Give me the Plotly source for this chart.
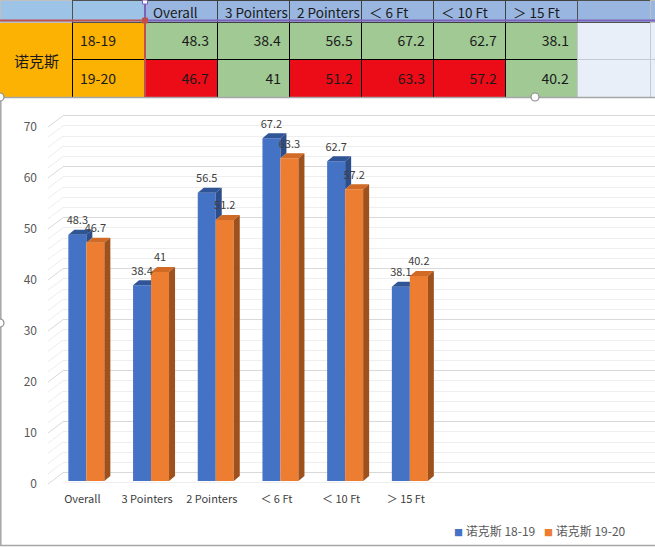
import plotly.graph_objects as go
import numpy as np

# ---------------- data ----------------
categories = ["Overall", "3 Pointers", "2 Pointers", "＜ 6 Ft", "＜ 10 Ft", "＞ 15 Ft"]
player = "诺克斯"
seasons = ["18-19", "19-20"]
values_1819 = [48.3, 38.4, 56.5, 67.2, 62.7, 38.1]
values_1920 = [46.7, 41, 51.2, 63.3, 57.2, 40.2]
y_ticks = [0, 10, 20, 30, 40, 50, 60, 70]

# ---------------- styling ----------------
W, H = 655, 547
FONT = "Noto Sans CJK SC, Noto Sans, sans-serif"
BLUE, BLUE_TOP, BLUE_SIDE = "#4472C4", "#2F5597", "#2D4E8B"
ORANGE, ORANGE_TOP, ORANGE_SIDE = "#ED7D31", "#D06A24", "#9E511C"
GOLD = "#FBB203"
GREEN = "#A0C994"
RED = "#EC0C17"
PALE = "#E9EFF8"
HDR_A = "#9DC3E6"
HDR_B = "#98B6DF"


def px_x(p):
    return p / W


def px_y(p):
    return 1 - p / H


def nb(s):
    return s.replace(" ", "\u00a0")


def fmt(v):
    return f"{v:g}"


def cell(s):
    # span wrapper -> plotly renders it vertically centred like Excel
    return f"<span>{s}</span>" if s else ""


fig = go.Figure()

# ---------------- table ----------------
hdr_vals = ["", ""] + [nb(c) for c in categories] + ["", ""]
cell_vals = ([["", ""], [cell(s) for s in seasons]]
             + [[cell(fmt(a)), cell(fmt(b))] for a, b in zip(values_1819, values_1920)]
             + [["", ""], ["", ""]])
cell_fill = [[GOLD, GOLD], [GOLD, GOLD]] + [[GREEN, RED if b < a else GREEN] for a, b in zip(values_1819, values_1920)] + [[PALE, PALE], [PALE, PALE]]
cell_line = [[GOLD, GOLD], ["#000000", "#000000"]] + [["#000000", "#000000"] for _ in categories] + [["#C4CAD4", "#C4CAD4"], ["#C4CAD4", "#C4CAD4"]]
hdr_fill = [HDR_A, HDR_A] + [HDR_B] * len(categories) + [HDR_B, HDR_B]
hdr_line = ["#BFBFBF", "#505050"] + ["#404040"] * len(categories) + ["#505050", "#BFBFBF"]
col_w = [72, 73] + [72] * len(categories) + [73, 5]

fig.add_trace(go.Table(
    domain=dict(x=[0, 1], y=[px_y(98), 1]),
    columnwidth=col_w,
    header=dict(values=hdr_vals, fill_color=hdr_fill, line=dict(color=hdr_line, width=1),
                align="left", height=22, font=dict(family=FONT, size=13.5, color="#1A1A1A")),
    cells=dict(values=cell_vals, fill_color=cell_fill, line=dict(color=cell_line, width=1),
               align=["center", "left"] + ["right"] * len(categories) + ["left", "left"],
               height=37.5, font=dict(family=FONT, size=14, color="#1A1A1A")),
))

# ---------------- 3D-looking bars ----------------
idx = np.arange(len(categories))
bw = 18 / 64.7      # bar width (category units)
dx = 6 / 64.7       # depth offset x
dy = 5 / 5.1        # depth offset y (value units)

fig.add_trace(go.Bar(x=idx, y=values_1819, width=bw, offset=-bw, marker=dict(color=BLUE, line=dict(width=0)),
                     xaxis="x2", yaxis="y2", showlegend=False, hoverinfo="skip", name=f"{player} {seasons[0]}"))
fig.add_trace(go.Bar(x=idx, y=values_1920, width=bw, offset=0, marker=dict(color=ORANGE, line=dict(width=0)),
                     xaxis="x2", yaxis="y2", showlegend=False, hoverinfo="skip", name=f"{player} {seasons[1]}"))


def poly_trace(polys, color):
    xs, ys = [], []
    for pts in polys:
        for (a, b) in pts + [pts[0]]:
            xs.append(a)
            ys.append(b)
        xs.append(None)
        ys.append(None)
    return go.Scatter(x=xs, y=ys, mode="none", fill="toself", fillcolor=color, xaxis="x2", yaxis="y2",
                      showlegend=False, hoverinfo="skip")


blue_top, blue_side, or_top, or_side = [], [], [], []
for i, a, b in zip(idx, values_1819, values_1920):
    x0, x1 = i - bw, i
    if b > a:
        blue_top.append([(x0, a), (x0 + dx, a + dy), (x1, a + dy), (x1, a)])
    else:
        blue_top.append([(x0, a), (x0 + dx, a + dy), (x1 + dx, a + dy), (x1, a)])
        blue_side.append([(x1, b), (x1 + dx, b + dy), (x1 + dx, a + dy), (x1, a)])
    or_top.append([(i, b), (i + dx, b + dy), (i + bw + dx, b + dy), (i + bw, b)])
    or_side.append([(i + bw, 0), (i + bw + dx, dy), (i + bw + dx, b + dy), (i + bw, b)])

fig.add_trace(poly_trace(blue_top, BLUE_TOP))
if blue_side:
    fig.add_trace(poly_trace(blue_side, BLUE_SIDE))
fig.add_trace(poly_trace(or_top, ORANGE_TOP))
fig.add_trace(poly_trace(or_side, ORANGE_SIDE))

# data labels
fig.add_trace(go.Scatter(x=idx - bw / 2, y=np.array(values_1819) + 2.6, text=[fmt(v) for v in values_1819],
                         mode="text", textfont=dict(family=FONT, size=11, color="#404040"),
                         xaxis="x2", yaxis="y2", showlegend=False, hoverinfo="skip", cliponaxis=False))
fig.add_trace(go.Scatter(x=idx + bw / 2, y=np.array(values_1920) + 2.6, text=[fmt(v) for v in values_1920],
                         mode="text", textfont=dict(family=FONT, size=11, color="#404040"),
                         xaxis="x2", yaxis="y2", showlegend=False, hoverinfo="skip", cliponaxis=False))

# legend entries (one legend each; square glyph inside the text for Excel-like tight spacing)
for s, c, lg in zip(seasons, [BLUE, ORANGE], ["legend", "legend2"]):
    fig.add_trace(go.Scatter(x=[None], y=[None], mode="markers", legend=lg,
                             name=f'<span style="color:{c};font-size:9px">■</span> {player} {s}',
                             marker=dict(symbol="square", size=1, color="rgba(0,0,0,0)"),
                             xaxis="x2", yaxis="y2"))

# ---------------- wall side gridlines (perspective) ----------------
shapes = []
for v in range(0, 71, 2):
    shapes.append(dict(type="line", xref="paper", yref="y", x0=px_x(48), x1=px_x(63), y0=v - 11.3 / 5.1, y1=v,
                       line=dict(color="#D9D9D9" if v % 10 == 0 else "#EEEEEE", width=1), layer="below"))

# chart frame & excel selection outline
shapes += [
    dict(type="rect", xref="paper", yref="paper", x0=px_x(0.8), x1=1.2, y0=px_y(545.5), y1=px_y(97.5),
         line=dict(color="#A6A6A6", width=1.5), layer="above"),
    dict(type="line", xref="paper", yref="paper", x0=0, x1=px_x(145), y0=px_y(20.5), y1=px_y(20.5),
         line=dict(color="#C0504D", width=2), layer="above"),
    dict(type="line", xref="paper", yref="paper", x0=px_x(145), x1=1, y0=px_y(20.5), y1=px_y(20.5),
         line=dict(color="#7E62B8", width=2), layer="above"),
    dict(type="line", xref="paper", yref="paper", x0=px_x(145), x1=px_x(145), y0=px_y(0), y1=px_y(20.5),
         line=dict(color="#7E62B8", width=2), layer="above"),
    dict(type="line", xref="paper", yref="paper", x0=px_x(145), x1=px_x(145), y0=px_y(20.5), y1=px_y(97),
         line=dict(color="#C0504D", width=2), layer="above"),
    # selection handles
    dict(type="rect", xref="paper", yref="paper", x0=px_x(142.5), x1=px_x(147.5), y0=px_y(23), y1=px_y(18),
         line=dict(color="#C0504D", width=1), fillcolor="#C0504D", layer="above"),
    dict(type="rect", xref="paper", yref="paper", x0=px_x(142.5), x1=px_x(147.5), y0=px_y(4), y1=px_y(0),
         line=dict(color="#7E62B8", width=1), fillcolor="white", layer="above"),
]
for hx, hy in [(0, 97), (535, 97), (0, 323)]:
    shapes.append(dict(type="circle", xref="paper", yref="paper", x0=px_x(hx - 4), x1=px_x(hx + 4),
                       y0=px_y(hy + 4), y1=px_y(hy - 4), line=dict(color="#8C8C8C", width=1.2),
                       fillcolor="white", layer="above"))

wall_lo, wall_hi = (472.7 - 490) / 5.1, (472.7 - 113.8) / 5.1
legend_style = dict(orientation="h", xanchor="left", yanchor="middle", y=px_y(531), itemwidth=30,
                    font=dict(family=FONT, size=12, color="#595959"), bgcolor="rgba(0,0,0,0)")

fig.update_layout(
    width=W, height=H, margin=dict(l=0, r=0, t=0, b=0, autoexpand=False),
    paper_bgcolor="white", plot_bgcolor="rgba(0,0,0,0)",
    barmode="overlay", hovermode=False,
    font=dict(family=FONT, color="#595959"),
    showlegend=True,
    legend=dict(x=px_x(414), **legend_style),
    legend2=dict(x=px_x(504), **legend_style),
    xaxis=dict(domain=[px_x(63), 1], range=[0, 1], visible=False, fixedrange=True, automargin=False),
    yaxis=dict(domain=[px_y(490), px_y(113.8)], range=[wall_lo, wall_hi], anchor="x",
               showgrid=True, tick0=0, dtick=10, gridcolor="#D9D9D9", gridwidth=1,
               minor=dict(dtick=2, showgrid=True, gridcolor="#EEEEEE", gridwidth=1),
               showticklabels=False, zeroline=False, ticks="", showline=False, fixedrange=True, automargin=False),
    xaxis2=dict(domain=[px_x(54), 1], range=[-0.5, -0.5 + (655 - 54) / 64.7], anchor="y2",
                tickmode="array", tickvals=idx, ticktext=categories,
                showgrid=False, zeroline=False, showline=False, ticks="",
                tickfont=dict(family=FONT, size=11, color="#404040"), ticklabelstandoff=10, ticklabelshift=-4,
                fixedrange=True, automargin=False),
    yaxis2=dict(domain=[px_y(481), px_y(113.8)], range=[0, 72], anchor="x2",
                tickmode="array", tickvals=y_ticks, showgrid=False, zeroline=False, showline=False, ticks="",
                tickfont=dict(family=FONT, size=12, color="#595959"), ticklabelstandoff=16, ticklabelshift=3,
                fixedrange=True, automargin=False),
    shapes=shapes,
    annotations=[dict(text=player, x=px_x(36), y=px_y(60), xref="paper", yref="paper", showarrow=False,
                      xanchor="center", yanchor="middle", font=dict(family=FONT, size=15, color="#1A1A1A"))],
)

fig.write_html("out.html", config={"displayModeBar": False},
               post_script="document.body.style.margin='0';document.body.style.padding='0';")
